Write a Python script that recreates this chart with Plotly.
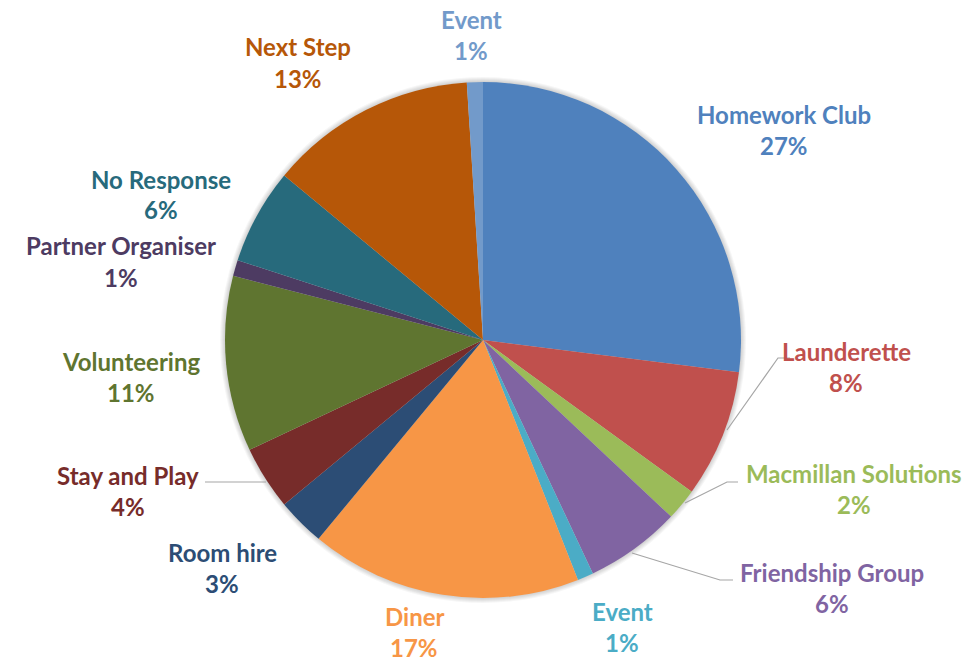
import plotly.graph_objects as go

# Share of sessions by activity, clockwise from 12 o'clock
categories = [
    "Homework Club", "Launderette", "Macmillan Solutions", "Friendship Group",
    "Event", "Diner", "Room hire", "Stay and Play", "Volunteering",
    "Partner Organiser", "No Response", "Next Step", "Event",
]
percentages = [27, 8, 2, 6, 1, 17, 3, 4, 11, 1, 6, 13, 1]

colors = [
    "#4F81BD", "#C0504D", "#9BBB59", "#8064A2", "#4BACC6", "#F79646",
    "#2C4D75", "#772C2A", "#5F7530", "#4D3B62", "#276A7C", "#B65708", "#729ACA",
]

W, H = 971, 664
CX, CY, R = 483, 340, 258  # pie centre and radius in pixels


def px(x):
    return x / W


def py(y):
    return 1 - y / H


# Label block centres (pixels) for each slice, in slice order
label_pos = [
    (784, 130), (846, 367), (854, 489), (832, 588), (622, 627), (414, 632),
    (222, 568), (128, 491), (131, 377), (121, 262), (161, 195), (298, 63),
    (471, 35),
]

# Leader lines (pixel polylines) for slices whose labels sit away from the edge
leaders = [
    [(727, 430), (778, 358), (790, 358)],
    [(685, 503), (727, 482), (738, 482)],
    [(632, 553), (720, 580), (733, 580)],
    [(266, 482), (205, 482)],
]

fig = go.Figure(
    go.Pie(
        labels=[str(i) for i in range(len(categories))],
        values=percentages,
        hovertext=categories,
        hoverinfo="text+percent",
        marker=dict(colors=colors, line=dict(width=0)),
        sort=False,
        direction="clockwise",
        rotation=0,
        textinfo="none",
        showlegend=False,
        domain=dict(x=[px(CX - R), px(CX + R)], y=[py(CY + R), py(CY - R)]),
    )
)

font_family = "Lato, 'Open Sans', sans-serif"
annotations = []
for name, pct, col, (lx, ly) in zip(categories, percentages, colors, label_pos):
    for text, dy in ((name, -16), (f"{pct}%", 15)):
        annotations.append(
            dict(
                x=px(lx), y=py(ly + dy), xref="paper", yref="paper",
                text=f"<b>{text}</b>", showarrow=False,
                xanchor="center", yanchor="middle",
                font=dict(family=font_family, size=24, color=col),
            )
        )

shapes = []
# soft halo around the pie
for k in range(1, 6):
    rr = R + k
    shapes.append(
        dict(type="circle", xref="paper", yref="paper", layer="below",
             x0=px(CX - rr), x1=px(CX + rr), y0=py(CY + rr), y1=py(CY - rr),
             fillcolor="rgba(0,0,0,0.035)", line=dict(width=0))
    )
for pts in leaders:
    path = "M " + " L ".join(f"{px(x)},{py(y)}" for x, y in pts)
    shapes.append(
        dict(type="path", path=path, xref="paper", yref="paper",
             line=dict(color="#A6A6A6", width=1.2))
    )

fig.update_layout(
    width=W, height=H,
    margin=dict(l=0, r=0, t=0, b=0),
    paper_bgcolor="white",
    plot_bgcolor="white",
    annotations=annotations,
    shapes=shapes,
)

fig.write_html("out.html")
